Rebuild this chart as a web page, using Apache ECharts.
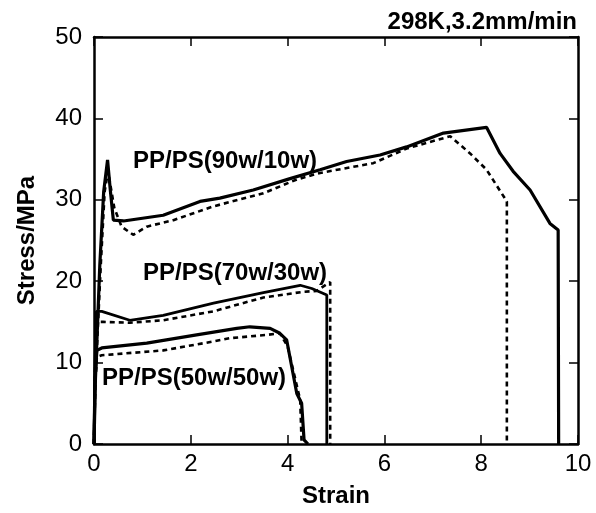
<!DOCTYPE html>
<html>
<head>
<meta charset="utf-8">
<script src="https://cdn.jsdelivr.net/npm/echarts@6/dist/echarts.min.js"></script>
<style>html,body{margin:0;padding:0;background:#fff}#c{width:596px;height:513px}</style>
</head>
<body>
<div id="c"></div>
<script>
// Strain / Stress(MPa) pairs
var pp90Solid = [[0,0],[0.03,8],[0.12,22],[0.2,31],[0.28,34.9],[0.34,31],[0.4,27.5],[0.61,27.4],[1.43,28.1],[2.19,29.8],[2.6,30.2],[3.29,31.2],[4.05,32.6],[4.67,33.7],[5.22,34.7],[5.91,35.5],[6.46,36.5],[7.22,38.2],[8.11,38.9],[8.39,35.7],[8.66,33.5],[9.01,31.2],[9.42,27.1],[9.59,26.3],[9.6,0]];
var pp90Dash = [[0,0],[0.03,8],[0.14,22],[0.22,31],[0.29,33.5],[0.42,29],[0.57,26.7],[0.81,25.7],[1.09,26.7],[1.64,27.5],[2.47,29.2],[3.5,30.8],[4.19,32.5],[4.67,33.3],[5.77,34.5],[6.46,36.3],[7.36,37.8],[7.77,35.7],[8.11,33.7],[8.53,29.8],[8.53,0]];
var pp70Solid = [[0,0],[0.02,10],[0.05,16.3],[0.16,16.3],[0.74,15.2],[1.43,15.8],[2.47,17.3],[3.5,18.6],[4.26,19.5],[4.5,19.1],[4.81,18.3],[4.81,0]];
var pp70Dash = [[0,0],[0.02,9],[0.06,15],[0.19,15.0],[0.74,14.9],[1.43,15.2],[2.47,16.3],[3.5,18.0],[4.33,18.7],[4.6,18.8],[4.88,19.9],[4.88,0]];
var pp50Solid = [[0,0],[0.02,8],[0.06,11.5],[0.16,11.8],[1.09,12.4],[2.12,13.4],[2.95,14.2],[3.22,14.4],[3.64,14.2],[3.84,13.6],[3.98,12.8],[4.19,6.2],[4.29,5.0],[4.34,0.5],[4.42,0]];
var pp50Dash = [[0,0],[0.02,7],[0.06,10.7],[0.16,10.9],[1.43,11.5],[2.47,12.6],[2.81,13.0],[3.57,13.4],[3.84,13.6],[4.0,12.0],[4.26,5.4],[4.29,0]];
var xTicks = [0,2,4,6,8,10];
var yTicks = [0,10,20,30,40,50];
var titleText = '298K,3.2mm/min';
var curveLabels = ['PP/PS(90w/10w)','PP/PS(70w/30w)','PP/PS(50w/50w)'];

var chart = echarts.init(document.getElementById('c'));
var tickFont = {fontFamily:'Liberation Sans', fontSize:24, color:'#000'};
function axisBase(pos, min, max, step, showLabel){
  return {
    type:'value', position:pos, min:min, max:max, interval:step,
    axisLine:{show:true, onZero:false, lineStyle:{color:'#000', width:2.5}},
    axisTick:{show:true, inside:true, length:9, lineStyle:{color:'#000', width:1.5}},
    splitLine:{show:false},
    axisLabel:Object.assign({show:showLabel}, tickFont)
  };
}
var nameFont = {fontFamily:'Liberation Sans', fontWeight:'bold', fontSize:24, color:'#000'};
var xb = axisBase('bottom',0,10,2,true);
xb.axisLabel.margin = 8;
xb.name = 'Strain'; xb.nameLocation='middle'; xb.nameGap = 40;
xb.nameTextStyle = nameFont;
var xt = axisBase('top',0,10,2,false);
var yl = axisBase('left',0,50,10,true);
yl.axisLabel.margin = 12;
yl.name = 'Stress/MPa'; yl.nameLocation='middle'; yl.nameGap = 55; yl.nameRotate = 90;
yl.nameTextStyle = nameFont;
var yr = axisBase('right',0,50,10,false);

function line(data, dashed, w){
  return {type:'line', data:data, xAxisIndex:0, yAxisIndex:0, showSymbol:false, symbol:'none',
    lineStyle:{color:'#000', width:w, type: dashed ? [5,4] : 'solid'}, animation:false, z: dashed?3:2};
}
var lblFont = 'bold 24px "Liberation Sans"';
function lbl(t, x, y){
  return {type:'text', x:x, y:y, style:{text:t, font:lblFont, fill:'#000', verticalAlign:'middle', textVerticalAlign:'middle'}};
}
chart.setOption({
  animation:false,
  title:{text:titleText, right:19, top:10, padding:0,
    textStyle:{fontFamily:'Liberation Sans', fontWeight:'bold', fontSize:24, color:'#000'}},
  grid:{left:94, right:18, top:37, bottom:69},
  xAxis:[xb, xt],
  yAxis:[yl, yr],
  series:[
    line(pp90Solid,false,3.2), line(pp90Dash,true,2.6),
    line(pp70Solid,false,2.8), line(pp70Dash,true,2.6),
    line(pp50Solid,false,3.2), line(pp50Dash,true,2.6)
  ],
  graphic:[
    lbl(curveLabels[0], 133, 161),
    lbl(curveLabels[1], 143, 273),
    lbl(curveLabels[2], 102, 378)
  ]
});
</script>
</body>
</html>
